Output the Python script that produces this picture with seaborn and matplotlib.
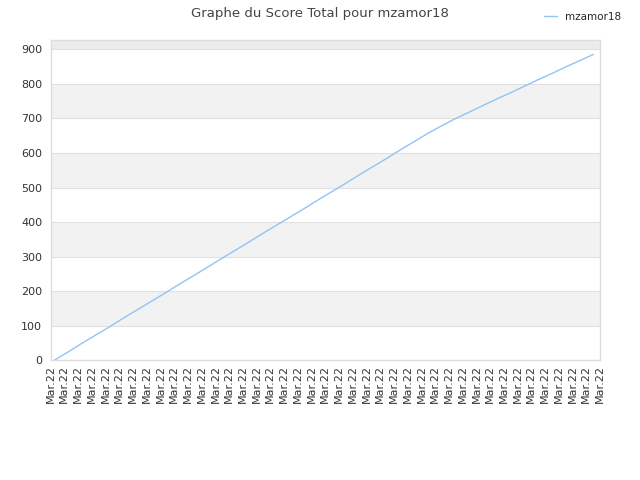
import matplotlib
matplotlib.use("Agg")
import matplotlib.pyplot as plt
import numpy as np
import pandas as pd
import seaborn as sns

player = "mzamor18"
scores = [0, 24, 49, 73, 97, 122, 146, 170, 194, 219, 243, 267, 292, 316,
          340, 365, 389, 413, 437, 462, 486, 510, 535, 559, 583, 608, 632,
          656, 678, 699, 718, 737, 756, 774, 793, 812, 830, 849, 867, 885]
tick_labels = ["Mar.22"] * 41

df = pd.DataFrame({"step": np.arange(len(scores)), "score": scores, "joueur": player})

sns.set_theme(style="white")
plt.rcParams["font.family"] = ["DejaVu Sans"]

fig = plt.figure(figsize=(6.4, 4.8), dpi=100)
ax = fig.add_axes([0.079, 0.249, 0.8585, 0.667])

ymax = 926
# alternating bands
for lo in range(0, 900, 100):
    if (lo // 100) % 2 == 1:
        ax.axhspan(lo, lo + 100, color="#f2f2f2", zorder=0, lw=0)
ax.axhspan(900, ymax, color="#ebebeb", zorder=0, lw=0)
for y in range(100, 1000, 100):
    ax.axhline(y, color="#e0e0e0", lw=0.8, zorder=1)

sns.lineplot(data=df, x="step", y="score", hue="joueur", palette=["#90c4f7"],
             lw=1, ax=ax, legend=False, zorder=3)

xmin, xmax = -0.24, 39.48
ax.set_xlim(xmin, xmax)
ax.set_ylim(0, ymax)
ax.set_xticks(np.linspace(xmin, xmax, len(tick_labels)))
ax.set_xticklabels(tick_labels, rotation=90, fontsize=8, color="#333333")
ax.set_yticks(range(0, 1000, 100))
ax.tick_params(axis="y", labelsize=8, labelcolor="#333333", length=0, pad=6)
ax.tick_params(axis="x", length=0, pad=3)
ax.set_xlabel("")
ax.set_ylabel("")
for s in ax.spines.values():
    s.set_color("#dddddd")
    s.set_linewidth(1)

fig.suptitle(f"Graphe du Score Total pour {player}", x=0.5, y=0.985,
             fontsize=9.5, color="#444444")

handle = plt.Line2D([], [], color="#90c4f7", lw=1)
fig.legend([handle], [player], loc="upper right", bbox_to_anchor=(0.985, 0.995),
           frameon=False, fontsize=7.5, handlelength=1.2, handletextpad=0.8)

fig.savefig("out.png", dpi=100)
